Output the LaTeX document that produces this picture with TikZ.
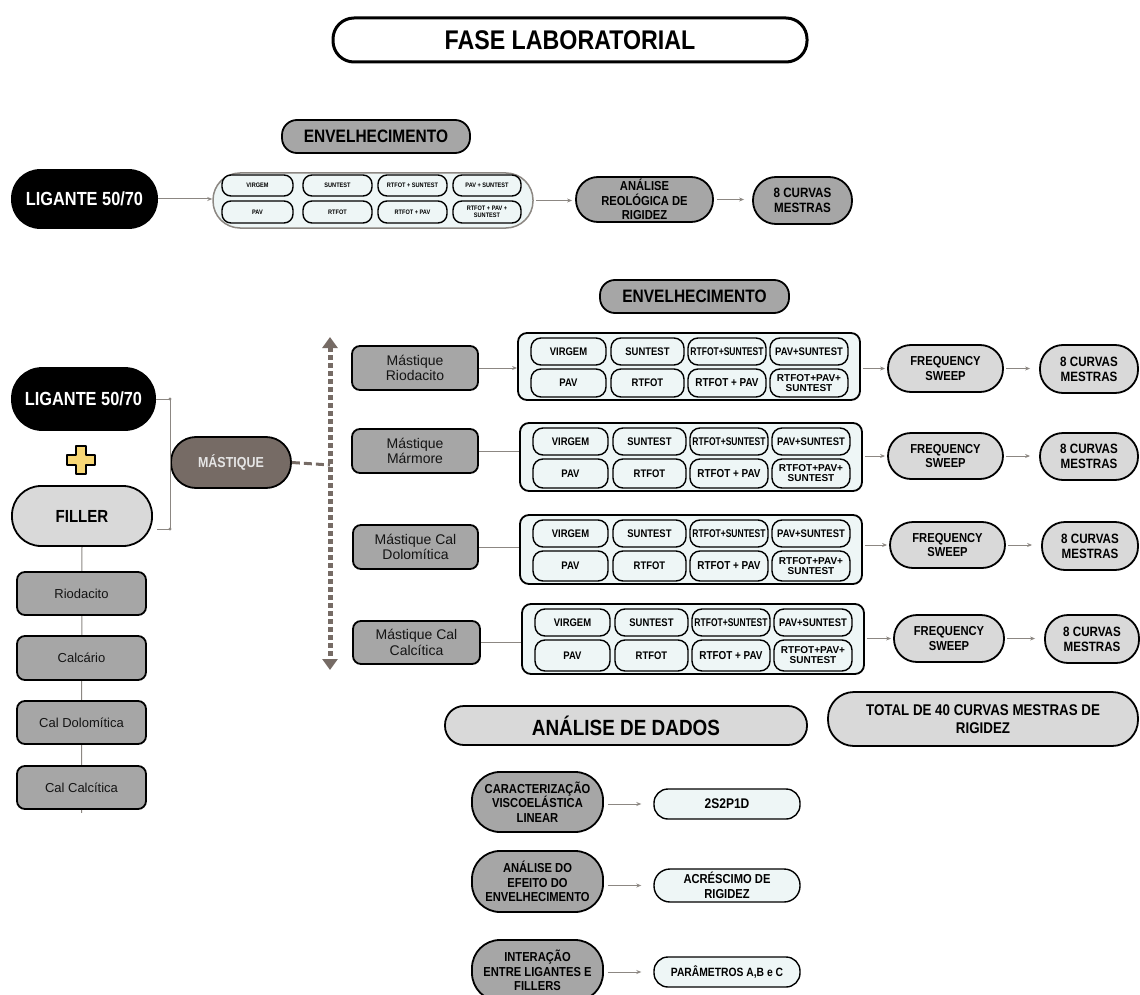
\documentclass[tikz,border=0pt]{standalone}
\usepackage{fontspec}
\setmainfont{Liberation Sans}[FakeStretch=0.86]
\newfontfamily\regfont{Liberation Sans}
\newfontfamily\narrowfont{Liberation Sans}[FakeStretch=0.76]
\usetikzlibrary{arrows.meta,backgrounds}

\definecolor{cgray}{HTML}{A6A6A6}
\definecolor{clgray}{HTML}{D9D9D9}
\definecolor{cblue}{HTML}{EEF6F6}
\definecolor{cmast}{HTML}{766B65}
\definecolor{cline}{HTML}{8C8782}
\definecolor{cplus}{HTML}{F8D775}
\definecolor{ctext}{HTML}{141414}

% font size with proportional line spacing
\newcommand\fz[1]{\fontsize{#1}{\fpeval{1.12*#1}}\selectfont}
\newcommand\fzt[1]{\fontsize{#1}{\fpeval{1.0*#1}}\selectfont}
% box given by its corners (x1,y1)-(x2,y2), y measured downwards
\newcommand\bx[7]{\node[#6, minimum width={(#4-(#2))*1pt}, minimum height={(#5-(#3))*1pt}] (#1) at ({(#2+#4)/2},{-(#3+#5)/2}) {#7};}

\tikzset{
  box/.style={draw=black, line width=1.8pt, inner sep=0pt, align=center, text=black},
  gbox/.style={box, fill=cgray},
  lbox/.style={box, fill=clgray},
  bbox/.style={box, fill=cblue},
  pill/.style={bbox, line width=1.4pt, rounded corners=#1},
  mbox/.style={gbox, rounded corners=8pt, text=ctext, font=\regfont\fz{14}},
  fbox/.style={gbox, rounded corners=8pt, text=ctext, font=\regfont\fz{13}},
  conn/.style={draw=cline, line width=1pt},
  arr/.style={conn, -{Stealth[length=5pt,width=4pt]}},
}

\begin{document}
\begin{tikzpicture}[x=1pt, y=1pt]
\useasboundingbox (0,0) rectangle (1140,-995);

% title
\bx{title}{333}{18}{807}{62}{box, fill=white, line width=3pt, rounded corners=21pt, font=\bfseries\fz{27}}{FASE LABORATORIAL}

% ---------- binder ageing ----------
\bx{env1}{282}{120}{470}{153}{gbox, rounded corners=15pt, font=\bfseries\fz{18}}{ENVELHECIMENTO}
\bx{lig1}{12}{170}{157}{228}{box, fill=black, text=white, rounded corners=28pt, font=\bfseries\fz{19}}{LIGANTE 50/70}
\bx{c0}{213}{173}{533}{228}{box, fill=cblue, draw=cline, line width=1.5pt, rounded corners=27pt}{}
\bx{q1}{222}{175}{293}{196}{pill=9pt, font=\bfseries\fz{6.5}}{VIRGEM}
\bx{q2}{303}{175}{372}{196}{pill=9pt, font=\bfseries\fz{6.5}}{SUNTEST}
\bx{q3}{378}{175}{447}{196}{pill=9pt, font=\bfseries\fz{6.5}}{RTFOT + SUNTEST}
\bx{q4}{453}{175}{521}{196}{pill=9pt, font=\bfseries\fz{6.5}}{PAV + SUNTEST}
\bx{q5}{222}{201}{293}{223}{pill=9pt, font=\bfseries\fz{6.5}}{PAV}
\bx{q6}{303}{201}{372}{223}{pill=9pt, font=\bfseries\fz{6.5}}{RTFOT}
\bx{q7}{378}{201}{447}{223}{pill=9pt, font=\bfseries\fz{6.5}}{RTFOT + PAV}
\bx{q8}{453}{201}{521}{223}{pill=9pt, font=\bfseries\fz{6.5}}{RTFOT + PAV +\\SUNTEST}
\bx{are}{576}{177}{713}{222}{gbox, rounded corners=22pt, font=\bfseries\fz{13}}{ANÁLISE\\REOLÓGICA DE\\RIGIDEZ}
\bx{cur0}{753}{177}{852}{224}{gbox, rounded corners=23pt, font=\bfseries\fz{13.5}}{8 CURVAS\\MESTRAS}

\draw[arr] (lig1.east) -- (lig1.east -| c0.west);
\draw[arr, shorten <=2pt, shorten >=3pt] (c0.east) -- (c0.east -| are.west);
\draw[arr, shorten <=3pt, shorten >=8pt] (are.east) -- (are.east -| cur0.west);

% ---------- mastic ageing ----------
\bx{env2}{600}{280}{789}{313}{gbox, rounded corners=15pt, font=\bfseries\fz{18}}{ENVELHECIMENTO}
\bx{lig2}{12}{368}{155}{430}{box, fill=black, text=white, rounded corners=30pt, font=\bfseries\fz{19}}{LIGANTE 50/70}
\bx{fil}{12}{486}{152}{546}{lbox, rounded corners=29pt, font=\bfseries\fz{17.5}}{FILLER}
\bx{mas}{171}{437}{291}{488}{box, fill=cmast, text=white!90!black, rounded corners=25pt, font=\bfseries\fz{14.5}}{MÁSTIQUE}

% plus sign
\draw[fill=cplus, line width=1.2pt, line join=round]
  (76,-446) -- (86,-446) -- (86,-455) -- (95,-455) -- (95,-465) -- (86,-465) -- (86,-474)
  -- (76,-474) -- (76,-465) -- (67,-465) -- (67,-455) -- (76,-455) -- cycle;

% bracket joining binder and filler
\coordinate (bt) at (170,-399);
\coordinate (bb) at (170,-529);
\coordinate (fb) at (157,-529);
\draw[conn] (lig2.east) -- (bt) -- (bb) -- (fb);
\fill[cline] (bt) circle (1.6) (bb) circle (1.6);

% dotted spine
\coordinate (vt) at (330,-337);
\coordinate (vb) at (330,-670);
\coordinate (vm) at (330,-465);
\draw[cmast, line width=5pt, dash pattern=on 4.5pt off 3.5pt,
      {Triangle[length=11pt,width=15pt]}-{Triangle[length=11pt,width=15pt]}] (vt) -- (vb);
\draw[cmast, line width=3pt, dash pattern=on 8pt off 4pt] (mas.east) -- (vm);

% filler types
\bx{fr}{17}{572}{146}{615}{fbox}{Riodacito}
\bx{fc}{17}{636}{146}{680}{fbox}{Calcário}
\bx{fd}{17}{701}{146}{744}{fbox}{Cal Dolomítica}
\bx{fk}{17}{766}{146}{809}{fbox}{Cal Calcítica}
\begin{pgfonlayer}{background}
\draw[conn] (fil.south) -- ([yshift=-3pt]fk.south);
\end{pgfonlayer}

% mastic boxes
\bx{m1}{352}{346}{478}{390}{mbox}{Mástique\\Riodacito}
\bx{m2}{352}{429}{478}{473}{mbox}{Mástique\\Mármore}
\bx{m3}{353}{525}{478}{569}{mbox}{Mástique Cal\\Dolomítica}
\bx{m4}{353}{621}{480}{664}{mbox}{Mástique Cal\\Calcítica}

% ageing grids
\foreach \L/\T/\B/\k in {518/333/400/1, 520/423/491/2, 520/515/584/3, 522/604/674/4}{
  \bx{c\k}{\L}{\T}{\L+342}{\B}{bbox, rounded corners=9pt}{}
  \bx{p\k a}{\L+13}{\T+5}{\L+88}{\T+32}{pill=10pt, font=\bfseries\fz{11}}{VIRGEM}
  \bx{p\k b}{\L+93}{\T+5}{\L+166}{\T+32}{pill=10pt, font=\bfseries\fz{11}}{SUNTEST}
  \bx{p\k c}{\L+170}{\T+5}{\L+248}{\T+32}{pill=10pt, font=\narrowfont\bfseries\fz{11.2}}{RTFOT+SUNTEST}
  \bx{p\k d}{\L+252}{\T+5}{\L+330}{\T+32}{pill=10pt, font=\bfseries\fz{11}}{PAV+SUNTEST}
  \bx{p\k e}{\L+13}{\T+36}{\L+88}{\B-3}{pill=10pt, font=\bfseries\fz{11}}{PAV}
  \bx{p\k f}{\L+93}{\T+36}{\L+166}{\B-3}{pill=10pt, font=\bfseries\fz{11}}{RTFOT}
  \bx{p\k g}{\L+170}{\T+36}{\L+248}{\B-3}{pill=10pt, font=\bfseries\fz{11.5}}{RTFOT + PAV}
  \bx{p\k h}{\L+252}{\T+36}{\L+330}{\B-3}{pill=10pt, font=\regfont\bfseries\fzt{10}}{RTFOT+PAV+\\SUNTEST}
}

% frequency sweeps and master curves
\bx{f1}{888}{345}{1003}{392}{lbox, rounded corners=23pt, font=\bfseries\fz{13}}{FREQUENCY\\SWEEP}
\bx{k1}{1040}{345}{1138}{393}{lbox, rounded corners=23pt, font=\bfseries\fz{13.5}}{8 CURVAS\\MESTRAS}
\bx{f2}{888}{433}{1003}{479}{lbox, rounded corners=23pt, font=\bfseries\fz{13}}{FREQUENCY\\SWEEP}
\bx{k2}{1040}{433}{1138}{480}{lbox, rounded corners=23pt, font=\bfseries\fz{13.5}}{8 CURVAS\\MESTRAS}
\bx{f3}{890}{522}{1005}{568}{lbox, rounded corners=23pt, font=\bfseries\fz{13}}{FREQUENCY\\SWEEP}
\bx{k3}{1042}{522}{1138}{570}{lbox, rounded corners=23pt, font=\bfseries\fz{13.5}}{8 CURVAS\\MESTRAS}
\bx{f4}{894}{615}{1004}{662}{lbox, rounded corners=23pt, font=\bfseries\fz{13}}{FREQUENCY\\SWEEP}
\bx{k4}{1045}{615}{1139}{663}{lbox, rounded corners=23pt, font=\bfseries\fz{13.5}}{8 CURVAS\\MESTRAS}

\draw[arr] (m1.east) -- (m1.east -| c1.west);
\foreach \k in {2,3,4}{\draw[conn] (m\k.east) -- (m\k.east -| c\k.west);}
\foreach \k in {1,2,3,4}{
  \draw[arr, shorten <=2pt, shorten >=2pt] (c\k.east |- f\k.west) -- (f\k.west);
  \draw[arr, shorten <=2pt, shorten >=9pt] (f\k.east) -- (f\k.east -| k\k.west);
}

% ---------- data analysis ----------
\bx{dad}{445}{706}{807}{745}{lbox, rounded corners=19pt, font=\bfseries\fz{22}}{ANÁLISE DE DADOS}
\bx{tot}{828}{692}{1138}{746}{lbox, rounded corners=26pt, font=\bfseries\fz{15.5}}{TOTAL DE 40 CURVAS MESTRAS DE\\RIGIDEZ}

\bx{car}{472}{772}{603}{832}{gbox, rounded corners=28pt, font=\bfseries\fz{13}}{CARACTERIZAÇÃO\\VISCOELÁSTICA\\LINEAR}
\bx{efe}{472}{851}{603}{912}{gbox, rounded corners=28pt, font=\bfseries\fz{13}}{ANÁLISE DO\\EFEITO DO\\ENVELHECIMENTO}
\bx{int}{472}{940}{603}{1001}{gbox, rounded corners=28pt, font=\bfseries\fz{13}}{INTERAÇÃO\\ENTRE LIGANTES E\\FILLERS}

\bx{s2p}{654}{789}{800}{819}{bbox, line width=1.4pt, rounded corners=14pt, font=\bfseries\fz{14}}{2S2P1D}
\bx{acr}{654}{869}{800}{902}{bbox, line width=1.4pt, rounded corners=16pt, font=\bfseries\fz{13}}{ACRÉSCIMO DE\\RIGIDEZ}
\bx{par}{654}{957}{800}{987}{bbox, line width=1.4pt, rounded corners=14pt, font=\bfseries\fz{12}}{PARÂMETROS A,B e C}

\draw[arr, shorten <=4pt, shorten >=12pt] (car.east |- s2p.west) -- (s2p.west);
\draw[arr, shorten <=4pt, shorten >=12pt] (efe.east |- acr.west) -- (acr.west);
\draw[arr, shorten <=4pt, shorten >=12pt] (int.east |- par.west) -- (par.west);
\end{tikzpicture}
\end{document}
